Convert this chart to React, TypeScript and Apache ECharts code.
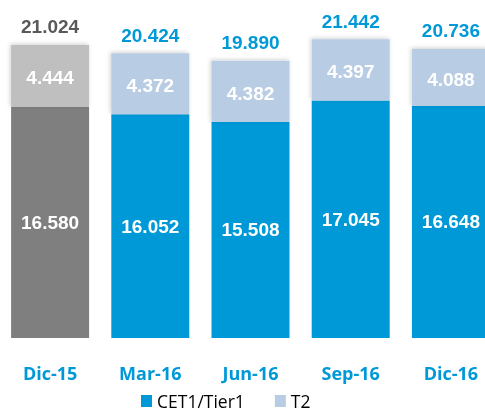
import React, { useEffect, useRef } from "react";
import * as echarts from "echarts";

const categories = ["Dic-15", "Mar-16", "Jun-16", "Sep-16", "Dic-16"];
const cet1 = [16580, 16052, 15508, 17045, 16648];
const t2 = [4444, 4372, 4382, 4397, 4088];
const totals = [21024, 20424, 19890, 21442, 20736];

const BLUE = "#0099d8";
const LIGHT_BLUE = "#b8cce4";
const DARK_GRAY = "#7f7f7f";
const LIGHT_GRAY = "#bfbfbf";
const TEXT_GRAY = "#595959";

const fmt = (v: number) => (v / 1000).toFixed(3);

export default function App() {
  const ref = useRef<HTMLDivElement>(null);
  useEffect(() => {
    if (!ref.current) return;
    const chart = echarts.init(ref.current, null, { renderer: "svg" });
    const numLabel = {
      show: true,
      position: "inside",
      color: "#ffffff",
      fontFamily: "Liberation Sans",
      fontWeight: "bold",
      fontSize: 19,
      formatter: (p: any) => fmt(p.value),
    };
    chart.setOption({
      animation: false,
      grid: { left: 0, width: 501, top: 3.5, height: 334.5 },
      xAxis: {
        type: "category",
        data: categories,
        axisLine: { show: false },
        axisTick: { show: false },
        axisLabel: {
          color: BLUE,
          fontFamily: "Open Sans",
          fontWeight: "bold",
          fontSize: 18,
          margin: 26,
        },
      },
      yAxis: {
        type: "value",
        min: 0,
        max: 24000,
        show: false,
        splitLine: { show: false },
      },
      legend: {
        data: ["CET1/Tier1", "T2"],
        left: 141,
        top: 392,
        padding: 0,
        icon: "rect",
        itemWidth: 11,
        itemHeight: 12,
        itemGap: 30,
        textStyle: {
          color: "#000000",
          fontFamily: "Open Sans",
          fontSize: 17.5,
          lineHeight: 16,
        },
      },
      series: [
        {
          name: "CET1/Tier1",
          type: "bar",
          stack: "total",
          barWidth: 78,
          itemStyle: { color: BLUE },
          label: numLabel,
          data: cet1.map((v, i) =>
            i === 0 ? { value: v, itemStyle: { color: DARK_GRAY } } : v
          ),
        },
        {
          name: "T2",
          type: "bar",
          stack: "total",
          barWidth: 78,
          itemStyle: {
            color: LIGHT_BLUE,
            shadowColor: "rgba(0,0,0,0.18)",
            shadowBlur: 4,
            shadowOffsetX: -1,
            shadowOffsetY: -1,
          },
          label: { ...numLabel, offset: [0, 2] },
          data: t2.map((v, i) =>
            i === 0 ? { value: v, itemStyle: { color: LIGHT_GRAY } } : v
          ),
        },
        {
          name: "Total",
          type: "scatter",
          symbolSize: 1,
          itemStyle: { color: "rgba(0,0,0,0)", opacity: 1 },
          label: {
            show: true,
            position: "top",
            distance: 8,
            color: BLUE,
            fontFamily: "Liberation Sans",
            fontWeight: "bold",
            fontSize: 19,
            formatter: (p: any) => fmt(p.value),
          },
          data: totals.map((v, i) =>
            i === 0 ? { value: v, label: { color: TEXT_GRAY } } : v
          ),
        },
      ],
    });
    return () => chart.dispose();
  }, []);
  return (
    <div
      style={{
        position: "fixed",
        left: 0,
        top: 0,
        width: 485,
        height: 413,
        overflow: "hidden",
      }}
    >
      <div ref={ref} style={{ width: 505, height: 413 }} />
    </div>
  );
}
